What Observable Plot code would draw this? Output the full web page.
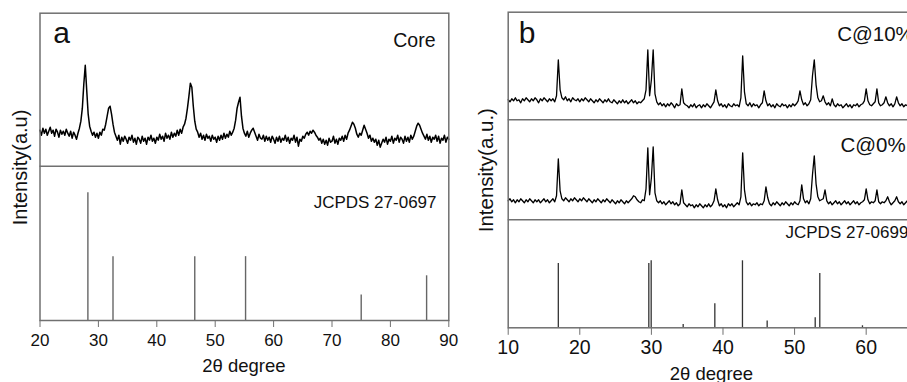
<!DOCTYPE html>
<html>
<head>
<meta charset="utf-8">
<script src="https://cdn.jsdelivr.net/npm/d3@7"></script>
<script src="https://cdn.jsdelivr.net/npm/@observablehq/plot@0.6"></script>
<style>
  html, body { margin: 0; padding: 0; background: #fff; }
  #wrap { position: relative; width: 907px; height: 382px; overflow: hidden; background: #fff; }
  #pa { position: absolute; left: 0; top: 0; width: 460px; }
  #pb { position: absolute; left: 460px; top: 0; width: 475px; }
  #wrap svg { display: block; max-width: none !important; }
</style>
</head>
<body>
<div id="wrap"><div id="pa"></div><div id="pb"></div></div>
<script>
// ---------------- DATA ----------------
// Panel a: 2θ from 20 to 90, step 0.25°
const coreStart = 20, coreStep = 0.25;
const coreIntensity = [
  36,31,38,33, 37,31,35,39, 33,36,30,37, 34,29,36,32, 35,31,37,33, // 20-24
  30,35,28,34, 31,27,33,38, 45,58,82,101, 76,52,40,35, 31,34,29,33, // 25-29
  28,34,31,37, 36,42,50,58, 60,52,42,34, 30,26,31,22, 29,25,30,27, // 30-34
  23,29,26,31, 24,28,22,29, 27,23,30,25, 28,22,29,26, 31,25,28,23, // 35-39
  29,26,32,27, 30,25,33,28, 31,27,34,29, 33,30,36,31, 37,33,39,42, // 40-44
  48,58,70,83, 79,60,45,37, 34,29,33,27, 31,26,32,28, 30,25,31,27, // 45-49
  29,24,30,26, 31,27,33,28, 32,29,35,31, 34,38,46,58, 64,69,50,38, // 50-54
  33,30,35,29, 33,36,38,34, 30,26,32,28, 27,31,25,30, 26,29,24,30, // 55-59
  27,23,29,25, 30,24,28,26, 31,25,29,23, 28,26,31,24, 29,20,27,25, // 60-64
  30,28,32,34, 31,35,33,36, 34,31,29,26, 28,23,27,22, 26,21,28,24, // 65-69
  25,30,23,27, 22,28,26,30, 25,31,27,33, 36,40,44,42, 38,32,29,33, // 70-74
  31,36,41,37, 33,28,31,25, 28,24,27,21, 26,19,23,27, 24,29,22,27, // 75-79
  25,30,23,28, 26,31,24,29, 27,23,30,25, 29,24,31,27, 30,35,40,43, // 80-84
  41,37,33,30, 27,32,26,30, 24,29,27,31, 25,30,23,28, 26,31,24,29, // 85-89
  27
];
const refAPositions = [28.2, 32.5, 46.5, 55.2, 75.0, 86.2];
const refAIntensity = [100, 50, 50, 50, 20, 35];
const ticksA = [20, 30, 40, 50, 60, 70, 80, 90];

// Panel b: 2θ from 10 to 67, step 0.25°
const bStart = 10, bStep = 0.25;
const c10Intensity = [
  20,18,21,19, 22,19,20,17, 21,19,22,20, 18,21,19,22, 20,17,21,19, // 10-14
  22,20,18,21, 19,21,18,24, 60,30,22,20, 23,19,21,18, 22,20,19,21, // 15-19
  18,21,19,22, 20,18,21,19, 17,20,18,21, 19,17,20,18, 21,18,17,20, // 20-24
  18,16,19,17, 20,17,19,16, 18,20,17,19, 16,18,17,19, 21,30,70,24, // 25-29
  40,70,26,18, 15,17,14,16, 13,16,14,17, 15,12,16,14, 15,31,17,15, // 30-34
  14,12,15,13, 16,12,14,15, 12,15,13,16, 14,12,15,18, 30,19,14,16, // 35-39
  13,15,12,16, 14,13,16,14, 15,13,22,64, 28,16,14,17, 13,16,14,15, // 40-44
  12,15,17,29, 19,14,16,13, 15,12,16,14, 13,16,14,15, 12,15,13,16, // 45-49
  14,16,19,29, 20,15,17,14, 16,20,44,60, 35,22,18,19, 24,18,15,17, // 50-54
  14,21,15,13, 16,14,15,12, 14,16,13,15, 12,15,14,16, 13,15,16,19, // 55-59
  31,19,15,14, 16,18,31,17, 14,15,17,23, 17,14,16,13, 16,23,17,14, // 60-64
  16,13,15,14, 16,13,15,14, 15                                      // 65-67
];
const c0Intensity = [
  19,21,18,20, 17,20,18,21, 19,17,20,18, 21,19,17,20, 18,20,17,19, // 10-14
  21,18,20,17, 19,21,18,24, 61,29,21,19, 22,20,18,21, 19,22,20,18, // 15-19
  21,19,22,20, 18,21,19,17, 20,18,21,19, 17,20,18,21, 19,17,20,18, // 20-24
  16,19,17,20, 18,16,19,17, 19,21,24,23, 20,18,17,20, 19,31,72,25, // 25-29
  42,73,27,19, 17,19,16,18, 15,17,19,16, 18,15,17,14, 16,30,17,15, // 30-34
  13,16,14,15, 12,15,13,16, 14,12,15,13, 16,13,15,19, 31,20,14,16, // 35-39
  13,15,12,16, 14,16,13,15, 17,15,23,67, 30,18,15,17, 14,16,15,17, // 40-44
  14,16,15,19, 33,22,16,14, 17,15,18,16, 14,17,15,18, 16,14,17,15, // 45-49
  18,16,15,19, 35,21,17,19, 16,21,45,64, 36,23,19,20, 21,30,19,16, // 50-54
  18,15,17,19, 16,18,15,17, 19,16,18,15, 17,19,16,18, 15,17,18,20, // 55-59
  31,20,16,18, 17,19,30,18, 16,18,17,19, 23,18,15,17, 19,23,18,16, // 60-64
  18,15,17,19, 16,18,15,17, 18                                      // 65-67
];
const refBPositions = [17.0, 29.64, 29.97, 34.44, 38.86, 42.72, 46.17, 52.88, 53.52, 59.48];
const refBIntensity = [96, 96, 100, 5, 36, 100, 10, 15, 81, 3];
const ticksB = [10, 20, 30, 40, 50, 60];

const labelsA = {panel: "a", sample: "Core", ref: "JCPDS 27-0697", y: "Intensity(a.u)", x: "2θ degree"};
const labelsB = {panel: "b", top: "C@10%", mid: "C@0%", ref: "JCPDS 27-0699", y: "Intensity(a.u.)", x: "2θ degree"};

// ---------------- DRAW ----------------
const FONT = "'Liberation Sans', Arial, Helvetica, sans-serif";
const FRAME = "#707070";
const toSeries = (arr, x0, step) => arr.map((v, i) => ({x: x0 + i * step, y: v}));
const label = (t, o) => Plot.text([t], {text: d => d, fill: "#111", fontFamily: FONT, ...o});

// Panel a
{
  const lowerH = 154.3;       // height of reference section
  const stickScale = 1.277;   // px per relative-intensity unit
  const core = toSeries(coreIntensity, coreStart, coreStep);
  const ref = refAPositions.map((p, i) => ({pos: p, int: refAIntensity[i]}));
  const chart = Plot.plot({
    width: 460, height: 382,
    marginLeft: 39.5, marginRight: 11.7, marginTop: 12.7, marginBottom: 62,
    x: {domain: [20, 90], axis: null},
    y: {domain: [0, 307.3], axis: null},
    style: {fontFamily: FONT, fontSize: "17px", color: "#111", background: "white"},
    marks: [
      Plot.ruleX(ref, {x: "pos", y1: 0, y2: d => d.int * stickScale, stroke: "#666", strokeWidth: 1.4}),
      Plot.line(core, {x: "x", y: d => lowerH + d.y, stroke: "#000", strokeWidth: 1.5}),
      Plot.ruleY([lowerH], {stroke: FRAME, strokeWidth: 1.5}),
      Plot.frame({stroke: FRAME, strokeWidth: 1.5}),
      Plot.axisX({ticks: ticksA, tickSize: 7, tickPadding: 6.3, stroke: FRAME, fill: "#111", fontSize: 17, label: null}),
      label(labelsA.panel, {frameAnchor: "top-left", textAnchor: "start", lineAnchor: "bottom", dx: 13.2, dy: 29.6, fontSize: 30}),
      label(labelsA.sample, {frameAnchor: "top-right", textAnchor: "end", lineAnchor: "bottom", dx: -13.3, dy: 33.3, fontSize: 19.5}),
      label(labelsA.ref, {frameAnchor: "top-right", textAnchor: "end", lineAnchor: "bottom", dx: -12.3, dy: 194.6, fontSize: 17}),
      label(labelsA.y, {frameAnchor: "left", rotate: -90, textAnchor: "middle", lineAnchor: "bottom", dx: -13.5, dy: 0.6, fontSize: 20}),
      label(labelsA.x, {frameAnchor: "bottom", textAnchor: "middle", lineAnchor: "bottom", dx: -0.5, dy: 51, fontSize: 18.5})
    ]
  });
  document.getElementById("pa").appendChild(chart);
}

// Panel b
{
  const lowerH = 108, midTop = 208;
  const stickScale = 0.67;
  const c10 = toSeries(c10Intensity, bStart, bStep);
  const c0 = toSeries(c0Intensity, bStart, bStep);
  const ref = refBPositions.map((p, i) => ({pos: p, int: refBIntensity[i]}));
  const chart = Plot.plot({
    width: 475, height: 382,
    marginLeft: 47.7, marginRight: 19.2, marginTop: 11.7, marginBottom: 54.7,
    x: {domain: [10, 67], axis: null},
    y: {domain: [0, 315.6], axis: null},
    style: {fontFamily: FONT, fontSize: "19.5px", color: "#111", background: "white"},
    marks: [
      Plot.ruleX(ref, {x: "pos", y1: 0, y2: d => d.int * stickScale, stroke: "#333", strokeWidth: 1.3}),
      Plot.line(c0, {x: "x", y: d => lowerH + d.y, stroke: "#000", strokeWidth: 1.3}),
      Plot.line(c10, {x: "x", y: d => midTop + d.y, stroke: "#000", strokeWidth: 1.3}),
      Plot.ruleY([lowerH, midTop], {stroke: FRAME, strokeWidth: 1.5}),
      Plot.frame({stroke: FRAME, strokeWidth: 1.5}),
      Plot.axisX({ticks: ticksB, tickSize: 7.5, tickPadding: 5.2, stroke: FRAME, fill: "#111", fontSize: 19.5, label: null}),
      label(labelsB.panel, {frameAnchor: "top-left", textAnchor: "start", lineAnchor: "bottom", dx: 10.6, dy: 31, fontSize: 30}),
      label(labelsB.top, {frameAnchor: "top-left", textAnchor: "start", lineAnchor: "bottom", dx: 329, dy: 29, fontSize: 20.5}),
      label(labelsB.mid, {frameAnchor: "top-left", textAnchor: "start", lineAnchor: "bottom", dx: 332.3, dy: 140, fontSize: 20.5}),
      label(labelsB.ref, {frameAnchor: "top-left", textAnchor: "start", lineAnchor: "bottom", dx: 277.3, dy: 225.6, fontSize: 17}),
      label(labelsB.y, {frameAnchor: "left", rotate: -90, textAnchor: "middle", lineAnchor: "bottom", dx: -15, dy: 0.2, fontSize: 20.5}),
      label(labelsB.x, {frameAnchor: "bottom", textAnchor: "middle", lineAnchor: "bottom", dx: -0.8, dy: 52.2, fontSize: 18.5})
    ]
  });
  document.getElementById("pb").appendChild(chart);
}
</script>
</body>
</html>
